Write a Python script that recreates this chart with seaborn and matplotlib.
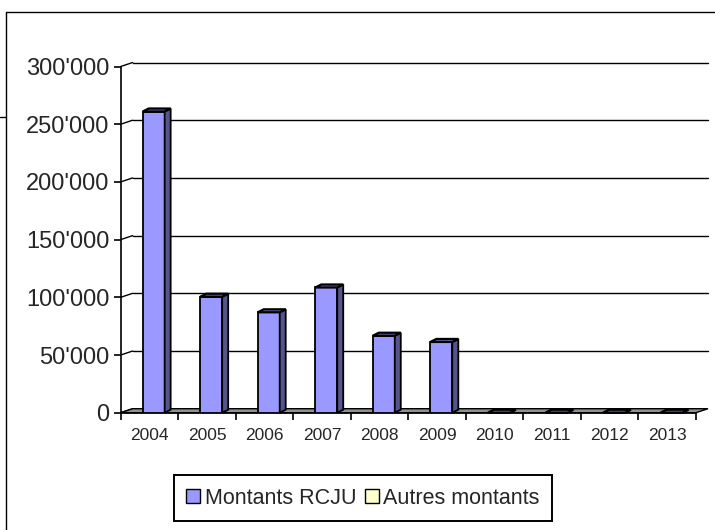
import numpy as np
import pandas as pd
import seaborn as sns
import matplotlib
matplotlib.use("Agg")
from matplotlib import pyplot as plt
from matplotlib.patches import Polygon, Patch
from matplotlib.lines import Line2D
from matplotlib.ticker import FuncFormatter, FixedLocator

# data
years = ["2004", "2005", "2006", "2007", "2008", "2009", "2010", "2011", "2012", "2013"]
montants_rcju = [261000, 100500, 87000, 108500, 66700, 61300, 0, 0, 0, 0]
autres_montants = [0, 0, 0, 0, 0, 0, 0, 0, 0, 0]
y_ticks = [0, 50000, 100000, 150000, 200000, 250000, 300000]

df = pd.DataFrame({"annee": years, "montant": montants_rcju})

sns.set_style("white")
plt.rcParams["font.family"] = ["Liberation Sans", "DejaVu Sans"]

W, H = 715, 530
fig = plt.figure(figsize=(W / 100, H / 100), dpi=100)
ax = fig.add_axes([120.7 / W, 117.3 / H, 575.3 / W, 346.2 / H])
ax.set_xlim(-0.5, 9.5)
ax.set_ylim(0, 300000)

# pixel -> data unit conversion
ux = 10 / 575.3
uy = 300000 / 346.2
wall_dx, wall_dy = 12 * ux, 4 * uy
bar_dx, bar_dy = 6 * ux, 3 * uy

front = "#9999FF"
side = "#55558C"
top = "#6A6AB5"

# floor
ax.add_patch(Polygon([(-0.5, 0), (9.5, 0), (9.5 + wall_dx, wall_dy), (-0.5 + wall_dx, wall_dy)],
                     closed=True, facecolor="#909090", edgecolor="black", lw=1, zorder=1, clip_on=False))

# back wall gridlines + diagonal connectors
for v in y_ticks[1:]:
    ax.plot([-0.5 + wall_dx, 9.5 + wall_dx], [v + wall_dy, v + wall_dy], color="black", lw=1,
            zorder=0.5, clip_on=False)
for v in y_ticks:
    ax.plot([-0.5, -0.5 + wall_dx], [v, v + wall_dy], color="black", lw=1, zorder=0.5, clip_on=False)

sns.barplot(data=df, x="annee", y="montant", color=front, saturation=1, width=0.382,
            edgecolor="black", linewidth=1.3, ax=ax, zorder=3)

for p in ax.patches[:]:
    if not hasattr(p, "get_width"):
        continue
    p.set_x(p.get_x() + 0.073)
    x, w, h = p.get_x(), p.get_width(), p.get_height()
    ax.add_patch(Polygon([(x + w, 0), (x + w, h), (x + w + bar_dx, h + bar_dy), (x + w + bar_dx, bar_dy)],
                         closed=True, facecolor=side, edgecolor="black", lw=1.3, zorder=3, clip_on=False))
    ax.add_patch(Polygon([(x, h), (x + w, h), (x + w + bar_dx, h + bar_dy), (x + bar_dx, h + bar_dy)],
                         closed=True, facecolor=top, edgecolor="black", lw=1.6, zorder=3, clip_on=False))

ax.set_xlim(-0.5, 9.5)
ax.set_ylim(0, 300000)

for s in ["top", "right"]:
    ax.spines[s].set_visible(False)
ax.spines["left"].set_linewidth(1.2)
ax.spines["bottom"].set_linewidth(1.2)
ax.spines["left"].set_color("black")
ax.spines["bottom"].set_color("black")

ax.set_yticks(y_ticks)
ax.yaxis.set_major_formatter(FuncFormatter(lambda v, _: f"{int(v):,}".replace(",", "'")))
ax.tick_params(axis="y", length=5, width=1.2, color="black", pad=3, labelsize=17, left=True)

ax.xaxis.set_minor_locator(FixedLocator(np.arange(-0.5, 10, 1)))
ax.tick_params(axis="x", which="minor", length=5, width=1.2, color="black", bottom=True)
ax.tick_params(axis="x", which="major", length=0, pad=11, labelsize=12.5)
ax.set_xlabel("")
ax.set_ylabel("")
ax.grid(False)

handles = [Patch(facecolor=front, edgecolor="black", lw=1, label="Montants RCJU"),
           Patch(facecolor="#FFFFCC", edgecolor="black", lw=1, label="Autres montants")]
leg = fig.legend(handles=handles, loc="center", bbox_to_anchor=(363 / W, 1 - 498 / H), ncol=2,
                 fontsize=15.5, frameon=True, fancybox=False, edgecolor="black", framealpha=1,
                 handlelength=0.65, handleheight=0.65, handletextpad=0.2, columnspacing=0.4,
                 borderpad=0.6, borderaxespad=0)
leg.get_frame().set_linewidth(1.4)

# outer chart frame
fig.add_artist(Line2D([6 / W, 6 / W], [0, 1 - 11.5 / H], color="black", lw=1))
fig.add_artist(Line2D([6 / W, 1], [1 - 11.5 / H, 1 - 11.5 / H], color="black", lw=1))
fig.add_artist(Line2D([0, 6 / W], [1 - 116.5 / H, 1 - 116.5 / H], color="black", lw=1))

fig.savefig("out.png", dpi=100)
